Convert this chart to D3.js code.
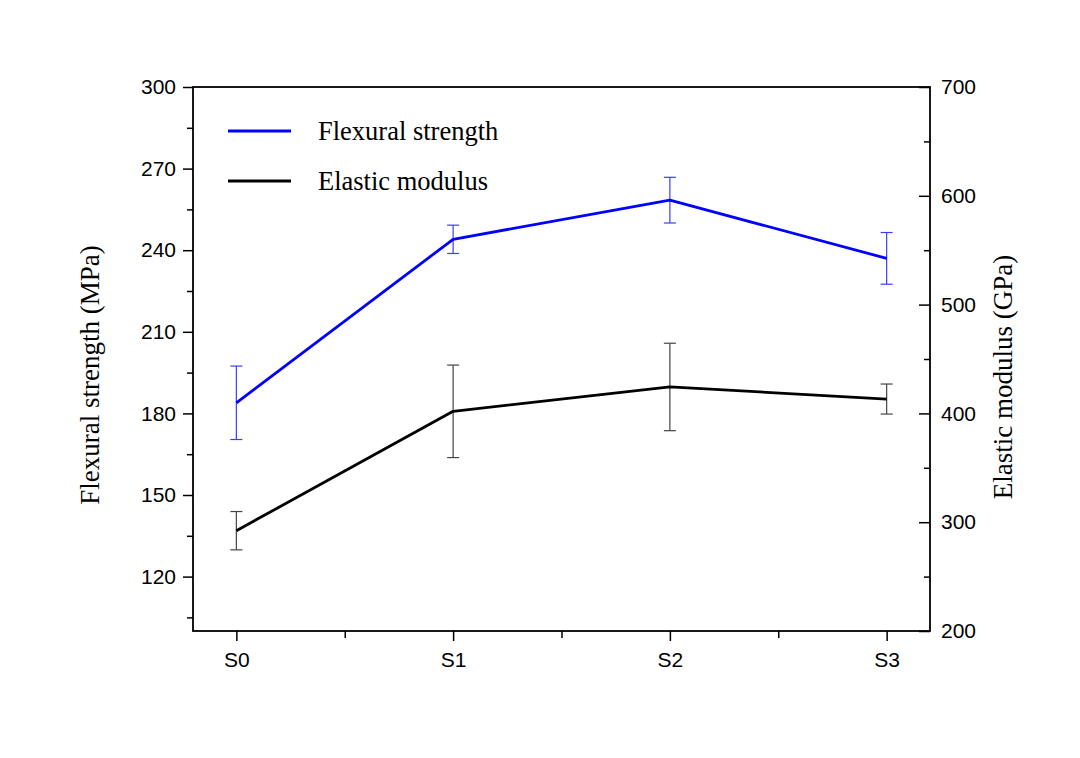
<!DOCTYPE html>
<html>
<head>
<meta charset="utf-8">
<script src="https://cdn.jsdelivr.net/npm/d3@7"></script>
<style>
  body { margin: 0; background: #fff; }
  svg { display: block; }
  .tick text { font-family: "Liberation Sans", Arial, sans-serif; font-size: 21px; fill: #000; }
  .serif { font-family: "Liberation Serif", "Times New Roman", serif; fill: #000; }
</style>
</head>
<body>
<svg id="graph" width="1080" height="758"></svg>
<script>
// samples
var categories = ["S0", "S1", "S2", "S3"];

// flexural strength (MPa), mean and error
var flexural = [183.9, 244.0, 258.4, 237.0];
var flexuralErr = [13.5, 5.2, 8.4, 9.5];

// elastic modulus (GPa), mean and error
var elastic = [292.2, 401.9, 424.3, 413.2];
var elasticErr = [17.6, 42.5, 40.2, 13.8];

var leftTicks = [120, 150, 180, 210, 240, 270, 300];
var rightTicks = [200, 300, 400, 500, 600, 700];

var margin = {left: 193, right: 930, top: 87, bottom: 631};

var svg = d3.select("#graph");

var x = d3.scaleLinear().domain([-0.2, 3.2]).range([margin.left, margin.right]);
var yL = d3.scaleLinear().domain([100, 300]).range([margin.bottom, margin.top]);
var yR = d3.scaleLinear().domain([200, 700]).range([margin.bottom, margin.top]);

// minor ticks first, then the major ones with labels
var minor = function(g) {
    g.selectAll("text").remove();
    g.select(".domain").remove();
    g.selectAll("line").attr("stroke", "#000").attr("stroke-width", 1.5);
};

svg.append("g")
    .attr("transform", "translate(0," + margin.bottom + ")")
    .call(d3.axisBottom(x).tickValues([0.5, 1.5, 2.5]).tickSize(7))
    .call(minor);
svg.append("g")
    .attr("transform", "translate(" + margin.left + ",0)")
    .call(d3.axisLeft(yL).tickValues(d3.range(105, 300, 30)).tickSize(6))
    .call(minor);
svg.append("g")
    .attr("transform", "translate(" + margin.right + ",0)")
    .call(d3.axisLeft(yR).tickValues(d3.range(250, 700, 100)).tickSize(6))
    .call(minor);

var styleAxis = function(g) {
    g.select(".domain").remove();
    g.selectAll("line").attr("stroke", "#000").attr("stroke-width", 1.5);
};

svg.append("g")
    .attr("transform", "translate(0," + margin.bottom + ")")
    .call(d3.axisBottom(x).tickValues([0, 1, 2, 3])
        .tickFormat(function(d) { return categories[d]; })
        .tickSize(10).tickPadding(11))
    .call(styleAxis);

svg.append("g")
    .attr("transform", "translate(" + margin.left + ",0)")
    .call(d3.axisLeft(yL).tickValues(leftTicks).tickSize(10).tickPadding(7))
    .call(styleAxis);

// right axis: ticks point inward, labels outside
var right = svg.append("g")
    .attr("transform", "translate(" + margin.right + ",0)")
    .call(d3.axisLeft(yR).tickValues(rightTicks).tickSize(11))
    .call(styleAxis);
right.selectAll(".tick text")
    .attr("x", 11)
    .attr("text-anchor", "start");

// frame
svg.append("rect")
    .attr("x", margin.left)
    .attr("y", margin.top)
    .attr("width", margin.right - margin.left)
    .attr("height", margin.bottom - margin.top)
    .attr("fill", "none")
    .attr("stroke", "#000")
    .attr("stroke-width", 1.8);

// series
var series = [
    {values: flexural, err: flexuralErr, y: yL, color: "#0000ff", errColor: "#3c3cff"},
    {values: elastic, err: elasticErr, y: yR, color: "#000", errColor: "#444"}
];

series.forEach(function(s) {
    var line = d3.line()
        .x(function(d, i) { return x(i); })
        .y(function(d) { return s.y(d); });

    var bars = svg.append("g").selectAll("g")
        .data(s.values)
        .enter().append("g")
        .attr("stroke", s.errColor)
        .attr("stroke-width", 1.2);
    bars.append("line")
        .attr("x1", function(d, i) { return x(i); })
        .attr("x2", function(d, i) { return x(i); })
        .attr("y1", function(d, i) { return s.y(d - s.err[i]); })
        .attr("y2", function(d, i) { return s.y(d + s.err[i]); });
    [-1, 1].forEach(function(sign) {
        bars.append("line")
            .attr("x1", function(d, i) { return x(i) - 6; })
            .attr("x2", function(d, i) { return x(i) + 6; })
            .attr("y1", function(d, i) { return s.y(d + sign * s.err[i]); })
            .attr("y2", function(d, i) { return s.y(d + sign * s.err[i]); });
    });

    svg.append("path")
        .datum(s.values)
        .attr("d", line)
        .attr("fill", "none")
        .attr("stroke", s.color)
        .attr("stroke-width", 2.8)
        .attr("stroke-linejoin", "round");
});

// legend
var legend = [
    {name: "Flexural strength", color: "#0000ff"},
    {name: "Elastic modulus", color: "#000"}
];
var lg = svg.append("g").selectAll("g")
    .data(legend)
    .enter().append("g")
    .attr("transform", function(d, i) { return "translate(228," + (131 + i * 50) + ")"; });
lg.append("line")
    .attr("x1", 0).attr("x2", 63)
    .attr("stroke", function(d) { return d.color; })
    .attr("stroke-width", 2.8);
lg.append("text")
    .attr("class", "serif")
    .attr("x", 90)
    .attr("y", 9)
    .attr("font-size", 26.5)
    .text(function(d) { return d.name; });

// axis titles
svg.append("text")
    .attr("class", "serif")
    .attr("transform", "translate(99,375) rotate(-90)")
    .attr("text-anchor", "middle")
    .attr("font-size", 27)
    .text("Flexural strength (MPa)");

svg.append("text")
    .attr("class", "serif")
    .attr("transform", "translate(1012,377) rotate(-90)")
    .attr("text-anchor", "middle")
    .attr("font-size", 27)
    .text("Elastic modulus (GPa)");
</script>
</body>
</html>
